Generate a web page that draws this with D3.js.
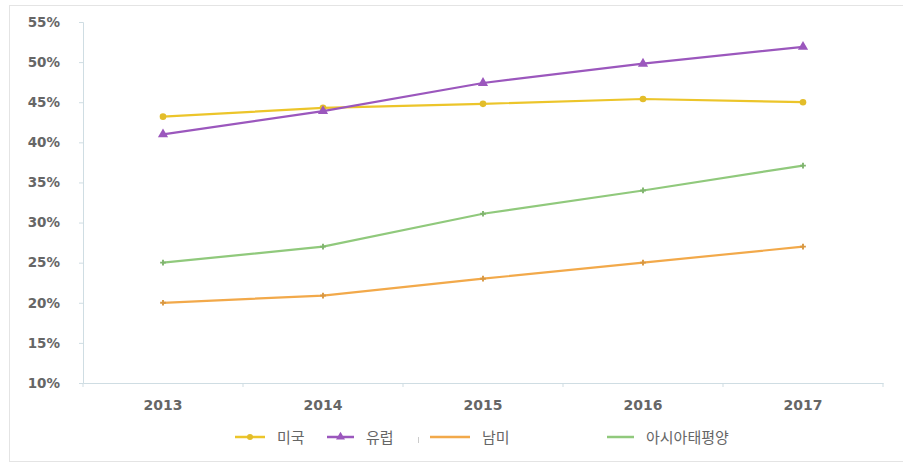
<!DOCTYPE html>
<html>
<head>
<meta charset="utf-8">
<script src="https://cdn.jsdelivr.net/npm/d3@7"></script>
<style>
  body { margin: 0; background: #fff; }
</style>
</head>
<body>
<div id="container"></div>
<script>
const years = ['2013', '2014', '2015', '2016', '2017'];
const yTicks = [0.10, 0.15, 0.20, 0.25, 0.30, 0.35, 0.40, 0.45, 0.50, 0.55];

const usa = [0.432, 0.443, 0.448, 0.454, 0.450];
const europe = [0.410, 0.439, 0.474, 0.498, 0.519];
const latam = [0.200, 0.209, 0.230, 0.250, 0.270];
const apac = [0.250, 0.270, 0.311, 0.340, 0.371];

const seriesNames = ['미국', '유럽', '남미', '아시아태평양'];
const seriesColors = ['#ecc52a', '#9b57bd', '#f2a94a', '#90c97c'];
const seriesValues = [usa, europe, latam, apac];

const W = 903, H = 464;
const margin = { left: 83, right: 20, top: 22, bottom: 81 };

const svg = d3.select('#container')
    .append('svg')
    .attr('width', W)
    .attr('height', H)
    .style('font-family', '"DejaVu Sans", sans-serif');

// outer frame
svg.append('rect')
    .attr('x', 9.5).attr('y', 5.5)
    .attr('width', W + 10).attr('height', 456)
    .attr('fill', 'none')
    .attr('stroke', '#e4e4e4');

const x = d3.scaleBand()
    .domain(years)
    .range([margin.left, W - margin.right]);

const y = d3.scaleLinear()
    .domain([0.10, 0.55])
    .range([H - margin.bottom, margin.top]);

const axisColor = '#cfdde3';

// y axis
const yAxis = svg.append('g')
    .attr('transform', `translate(${margin.left},0)`)
    .call(d3.axisLeft(y).tickValues(yTicks).tickFormat(d3.format('.0%')).tickSize(4).tickPadding(19));
yAxis.select('.domain').attr('stroke', axisColor);
yAxis.selectAll('.tick line').attr('stroke', axisColor);
yAxis.selectAll('text')
    .attr('fill', '#666')
    .attr('font-size', 13.5)
    .attr('font-family', '"DejaVu Sans", sans-serif')
    .attr('font-weight', 'bold');

// x axis
const xAxis = svg.append('g')
    .attr('transform', `translate(0,${H - margin.bottom})`)
    .call(d3.axisBottom(x).tickSize(0).tickPadding(17));
xAxis.select('.domain').attr('stroke', axisColor);
xAxis.selectAll('text')
    .attr('fill', '#666')
    .attr('font-size', 14)
    .attr('font-family', '"DejaVu Sans", sans-serif')
    .attr('font-weight', 'bold');
xAxis.selectAll('.sep')
    .data(years.concat(['end']))
    .enter()
    .append('line')
    .attr('class', 'sep')
    .attr('x1', (d, i) => margin.left + i * x.bandwidth())
    .attr('x2', (d, i) => margin.left + i * x.bandwidth())
    .attr('y1', 0)
    .attr('y2', 4)
    .attr('stroke', axisColor);

const cx = d => x(d) + x.bandwidth() / 2;
const line = d3.line()
    .x((d, i) => cx(years[i]))
    .y(d => y(d));

// draw in order: green, orange, yellow, purple
const order = [3, 2, 0, 1];
order.forEach(k => {
    const g = svg.append('g');
    g.append('path')
        .datum(seriesValues[k])
        .attr('d', line)
        .attr('fill', 'none')
        .attr('stroke', seriesColors[k])
        .attr('stroke-width', 2.2);

    if (k === 1) {
        const tri = d3.symbol().type(d3.symbolTriangle).size(45);
        g.selectAll('path.m')
            .data(seriesValues[k])
            .enter()
            .append('path')
            .attr('class', 'm')
            .attr('d', tri)
            .attr('transform', (d, i) => `translate(${cx(years[i])},${y(d)})`)
            .attr('fill', seriesColors[k]);
    } else if (k === 0) {
        g.selectAll('circle')
            .data(seriesValues[k])
            .enter()
            .append('circle')
            .attr('cx', (d, i) => cx(years[i]))
            .attr('cy', d => y(d))
            .attr('r', 3.3)
            .attr('fill', '#e3bd2a');
    } else {
        const cross = d3.symbol().type(d3.symbolCross).size(18);
        g.selectAll('path.m')
            .data(seriesValues[k])
            .enter()
            .append('path')
            .attr('class', 'm')
            .attr('d', cross)
            .attr('transform', (d, i) => `translate(${cx(years[i])},${y(d)})`)
            .attr('fill', d3.color(seriesColors[k]).darker(0.3));
    }
});

// legend
const legendX = [235, 327, 430, 607];
const legendLen = [30, 27, 40, 27];
const legendY = 437;
const legend = svg.append('g');
seriesNames.forEach((name, k) => {
    const lx = legendX[k];
    legend.append('line')
        .attr('x1', lx).attr('x2', lx + legendLen[k])
        .attr('y1', legendY).attr('y2', legendY)
        .attr('stroke', seriesColors[k])
        .attr('stroke-width', 2.5);
    const mx = lx + legendLen[k] / 2;
    if (k === 0) {
        legend.append('circle').attr('cx', mx).attr('cy', legendY).attr('r', 3).attr('fill', '#e3bd2a');
    } else if (k === 1) {
        legend.append('path')
            .attr('d', d3.symbol().type(d3.symbolTriangle).size(35))
            .attr('transform', `translate(${mx},${legendY})`)
            .attr('fill', seriesColors[k]);
    }
    legend.append('text')
        .attr('x', lx + legendLen[k] + 12)
        .attr('y', legendY + 6)
        .attr('fill', '#666')
        .attr('font-size', 15)
        .attr('font-family', '"Noto Sans CJK KR", sans-serif')
        .text(name);
});
legend.append('line')
    .attr('x1', 418.5).attr('x2', 418.5)
    .attr('y1', 437).attr('y2', 443)
    .attr('stroke', '#ccc');
</script>
</body>
</html>
